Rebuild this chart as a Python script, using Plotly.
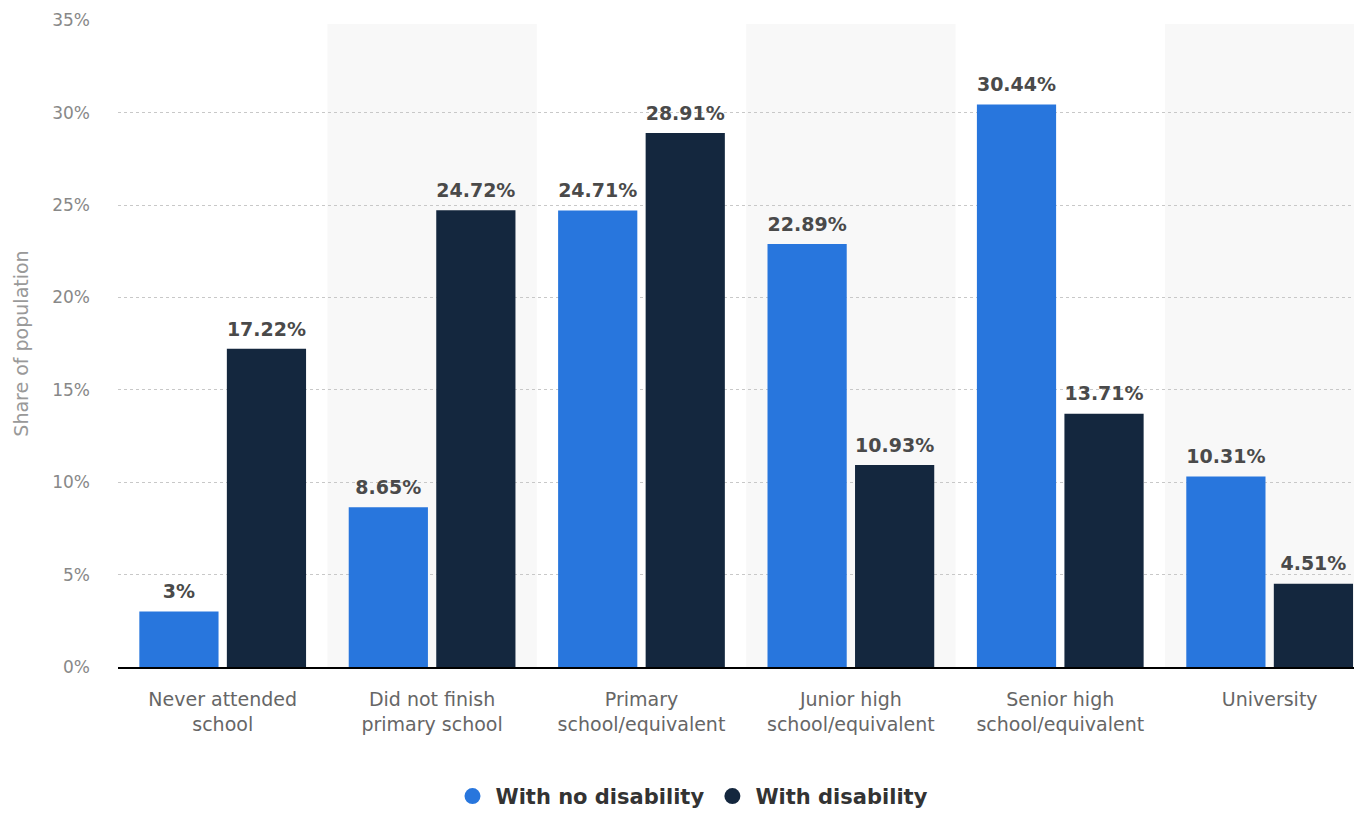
import plotly.graph_objects as go

categories = ["Never attended<br>school", "Did not finish<br>primary school", "Primary<br>school/equivalent",
              "Junior high<br>school/equivalent", "Senior high<br>school/equivalent", "University"]
no_disability = [3, 8.65, 24.71, 22.89, 30.44, 10.31]
with_disability = [17.22, 24.72, 28.91, 10.93, 13.71, 4.51]
series_names = ["With no disability", "With disability"]
colors = ["#2876dd", "#14273e"]
y_ticks = [0, 5, 10, 15, 20, 25, 30, 35]

FONT = "DejaVu Sans"
BARGAP = 0.164
fig = go.Figure()
for k, (name, vals, col) in enumerate(zip(series_names, [no_disability, with_disability], colors)):
    fig.add_trace(go.Bar(
        x=categories, y=vals, name=name, marker=dict(color=col, line=dict(width=0)),
        offsetgroup=str(k), showlegend=False, hoverinfo="skip"))
for k, (name, vals) in enumerate(zip(series_names, [no_disability, with_disability])):
    fig.add_trace(go.Scatter(
        x=categories, y=vals, mode="markers+text", offsetgroup=str(k),
        text=[f"{v:g}%" for v in vals], textposition="top center", cliponaxis=False,
        marker=dict(size=12, opacity=0), showlegend=False, hoverinfo="skip",
        textfont=dict(family=FONT, size=19, color="#4a4a4a", weight="bold")))
for name, col in zip(series_names, colors):
    fig.add_trace(go.Scatter(x=[None], y=[None], mode="markers", name=name, xaxis="x2",
                             marker=dict(color=col, size=24, symbol="circle")))

shapes = []
for i in range(len(categories)):
    if i % 2 == 1:
        shapes.append(dict(type="rect", xref="x", yref="y", x0=i - 0.5, x1=i + 0.5,
                           y0=0, y1=34.8, fillcolor="#f8f8f8", line=dict(width=0), layer="below"))

fig.update_layout(
    width=1354, height=810,
    margin=dict(l=110, r=0, t=12, b=151),
    paper_bgcolor="white", plot_bgcolor="white",
    barmode="group", bargap=BARGAP, bargroupgap=0.095,
    scattermode="group", scattergap=BARGAP,
    shapes=shapes,
    font=dict(family=FONT),
    xaxis=dict(tickfont=dict(family=FONT, size=19, color="#666666"), showgrid=False,
               range=[-0.5, 5.441],
               showline=True, linecolor="#000000", linewidth=2, ticks="", ticklabelstandoff=14),
    xaxis2=dict(overlaying="x", visible=False),
    yaxis=dict(range=[0, 35.02], tickvals=y_ticks, ticktext=[f"{t}%" for t in y_ticks],
               tickfont=dict(family=FONT, size=17, color="#888888"), ticklabeloverflow="allow",
               showgrid=True, gridcolor="#c8c8c8", griddash="dot", gridwidth=1,
               zeroline=False, ticks="", ticklabelstandoff=27,
               title=dict(text="Share of population", font=dict(family=FONT, size=19, color="#999999"), standoff=18)),
    legend=dict(orientation="h", x=0.461, xanchor="center", y=-0.2, yanchor="middle",
                font=dict(family=FONT, size=21, color="#333333", weight="bold"),
                itemwidth=36, traceorder="normal"),
)
fig.write_html("out.html")
